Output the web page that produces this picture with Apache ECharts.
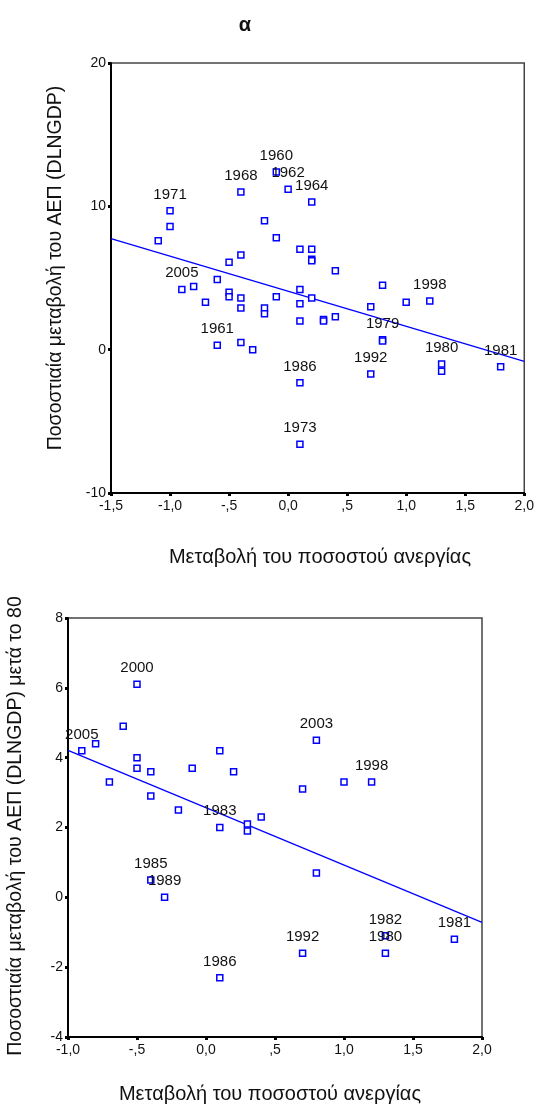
<!DOCTYPE html>
<html>
<head>
<meta charset="utf-8">
<script src="https://cdn.jsdelivr.net/npm/echarts@6/dist/echarts.min.js"></script>
<style>
  html, body { margin: 0; padding: 0; background: #fff; }
  #chart { width: 537px; height: 1111px; }
</style>
</head>
<body>
<div id="chart"></div>
<script>
// top panel: all years
const topX = [-0.1, 0.0, 0.2, -0.4, -1.0, -1.0, -1.1, -0.2, -0.1, 0.1, 0.2, 0.2, 0.2, -0.4, -0.5, -0.9, -0.8, -0.6, 0.1, -0.5, -0.5, -0.4, -0.1, 0.2, -0.7, 0.1, -0.4, -0.2, -0.2, 0.1, -0.6, -0.4, -0.3, 0.1, 0.1, 0.3, 0.3, 0.4, 0.8, 0.7, 1.0, 1.2, 0.8, 0.8, 0.7, 1.3, 1.3, 1.8, 0.4]
const topY = [12.4, 11.2, 10.3, 11.0, 9.7, 8.6, 7.6, 9.0, 7.8, 7.0, 7.0, 6.3, 6.2, 6.6, 6.1, 4.2, 4.4, 4.9, 4.2, 4.0, 3.7, 3.6, 3.7, 3.6, 3.3, 3.2, 2.9, 2.9, 2.5, 2.0, 0.3, 0.5, 0.0, -2.3, -6.6, 2.1, 2.0, 2.3, 4.5, 3.0, 3.3, 3.4, 0.7, 0.6, -1.7, -1.0, -1.5, -1.2, 5.5]
const topYears = ['1960', '1962', '1964', '1968', '1971', '', '', '', '', '', '', '', '', '', '', '2005', '', '', '', '', '', '', '', '', '', '', '', '', '', '', '1961', '', '', '1986', '1973', '', '', '', '', '', '', '1998', '1979', '', '1992', '1980', '', '1981', '']
const topFitX = [-1.5, 2.0]
const topFitY = [7.75, -0.82]

// bottom panel: after 1980
const botX = [-0.5, -0.6, -0.9, -0.8, -0.7, -0.5, -0.5, -0.4, -0.4, -0.2, -0.1, 0.1, 0.2, 0.4, 0.1, 0.3, 0.3, -0.4, -0.3, 0.1, 0.8, 0.7, 1.3, 1.3, 1.8, 0.8, 1.0, 1.2, 0.7]
const botY = [6.1, 4.9, 4.2, 4.4, 3.3, 4.0, 3.7, 3.6, 2.9, 2.5, 3.7, 4.2, 3.6, 2.3, 2.0, 2.1, 1.9, 0.5, 0.0, -2.3, 0.7, -1.6, -1.1, -1.6, -1.2, 4.5, 3.3, 3.3, 3.1]
const botYears = ['2000', '', '2005', '', '', '', '', '', '', '', '', '', '', '', '1983', '', '', '1985', '1989', '1986', '', '1992', '1982', '1980', '1981', '2003', '', '1998', '']
const botFitX = [-1.0, 2.0]
const botFitY = [4.21, -0.72]

const xTitle = 'Μεταβολή του ποσοστού ανεργίας'
const topYTitle = 'Ποσοστιαία μεταβολή του ΑΕΠ (DLNGDP)'
const botYTitle = 'Ποσοστιαία μεταβολή του ΑΕΠ (DLNGDP) μετά το 80'

const FONT = '"Liberation Sans", Arial, sans-serif'

// SPSS style: -1,5  -,5  0,0  ,5
function fmtX(v) {
  if (v === 0) return '0,0'
  let s = Math.abs(v).toFixed(1).replace('.', ',')
  if (Math.abs(v) < 1) s = s.slice(1)
  return (v < 0 ? '-' : '') + s
}

function points(xs, ys, names) {
  return xs.map((x, i) => [x, ys[i], names[i]])
}

function axisX(gridIndex, min) {
  return {
    gridIndex: gridIndex,
    type: 'value',
    min: min,
    max: 2.0,
    interval: 0.5,
    splitLine: { show: false },
    axisLine: { onZero: false, lineStyle: { color: '#000', width: 2 } },
    axisTick: { length: 3, lineStyle: { color: '#000', width: 3 } },
    axisLabel: { color: '#111', fontSize: 14, fontFamily: FONT, margin: 6, formatter: fmtX }
  }
}

function axisY(gridIndex, min, max, interval) {
  return {
    gridIndex: gridIndex,
    type: 'value',
    min: min,
    max: max,
    interval: interval,
    splitLine: { show: false },
    axisLine: { onZero: false, lineStyle: { color: '#000', width: 2 } },
    axisTick: { length: 3, lineStyle: { color: '#000', width: 3 } },
    axisLabel: { color: '#111', fontSize: 14, fontFamily: FONT, margin: 5 }
  }
}

function scatter(idx, data) {
  return {
    type: 'scatter',
    xAxisIndex: idx,
    yAxisIndex: idx,
    symbol: 'rect',
    symbolSize: 6,
    data: data,
    itemStyle: { color: '#fff', borderColor: '#0000ff', borderWidth: 1.5, opacity: 1 },
    label: {
      show: true,
      position: 'top',
      distance: 5,
      color: '#111',
      fontSize: 15,
      fontFamily: FONT,
      formatter: p => p.value[2] || ''
    },
    z: 3
  }
}

function fitLine(idx, xs, ys) {
  return {
    type: 'line',
    xAxisIndex: idx,
    yAxisIndex: idx,
    data: xs.map((x, i) => [x, ys[i]]),
    symbol: 'none',
    lineStyle: { color: '#0000ff', width: 1.3 },
    z: 2
  }
}

function textEl(text, x, y, size, rotated) {
  return {
    type: 'text',
    x: x,
    y: y,
    rotation: rotated ? Math.PI / 2 : 0,
    style: { text: text, align: 'center', verticalAlign: 'middle', font: size + 'px ' + FONT, fill: '#111' }
  }
}

const chart = echarts.init(document.getElementById('chart'))
chart.setOption({
  animation: false,
  title: {
    text: 'α',
    left: 240,
    top: 10,
    textAlign: 'center',
    textStyle: { fontSize: 20, fontWeight: 'bold', color: '#111', fontFamily: FONT }
  },
  grid: [
    { left: 111, top: 63, width: 415, height: 430, show: true, borderColor: '#444', borderWidth: 1.5 },
    { left: 68, top: 618, width: 414, height: 419, show: true, borderColor: '#444', borderWidth: 1.5 }
  ],
  xAxis: [axisX(0, -1.5), axisX(1, -1.0)],
  yAxis: [axisY(0, -10, 20, 10), axisY(1, -4, 8, 2)],
  graphic: [
    textEl(xTitle, 320, 557, 20, false),
    textEl(topYTitle, 56, 268, 19.5, true),
    textEl(xTitle, 270, 1094, 20, false),
    textEl(botYTitle, 16, 826, 19.5, true)
  ],
  series: [
    fitLine(0, topFitX, topFitY),
    scatter(0, points(topX, topY, topYears)),
    fitLine(1, botFitX, botFitY),
    scatter(1, points(botX, botY, botYears))
  ]
})
</script>
</body>
</html>
